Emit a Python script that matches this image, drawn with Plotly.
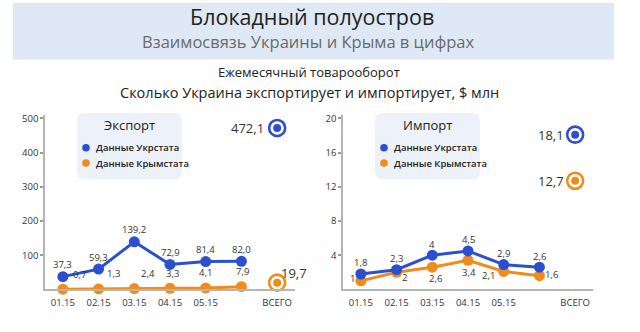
import plotly.graph_objects as go

W, H = 640, 332

# ---------------- data ----------------
months = ["01.15", "02.15", "03.15", "04.15", "05.15", "", "ВСЕГО"]
exp_ukr = [37.3, 59.3, 139.2, 72.9, 81.4, 82.0]
exp_crim = [0.7, 1.3, 2.4, 3.3, 4.1, 7.9]
exp_total_ukr = 472.1
exp_total_crim = 19.7
imp_ukr = [1.8, 2.3, 4, 4.5, 2.9, 2.6]
imp_crim = [1, 2, 2.6, 3.4, 2.1, 1.6]
imp_total_ukr = 18.1
imp_total_crim = 12.7
exp_ticks = [100, 200, 300, 400, 500]
imp_ticks = [4, 8, 12, 16, 20]

title = "Блокадный полуостров"
subtitle = "Взаимосвязь Украины и Крыма в цифрах"
chart_title = "Ежемесячный товарооборот"
chart_sub = "Сколько Украина экспортирует и импортирует, $ млн"
legend_ukr = "Данные Укрстата"
legend_crim = "Данные Крымстата"

BLUE = "#2b4fcf"
ORANGE = "#f08c1a"
TXT = "#333333"
FONT = "Open Sans"


def px(x):
    return x / W


def py(y):
    return 1 - y / H


def fmt(v):
    s = ("%g" % v) if float(v).is_integer() else ("%.1f" % v)
    return s.replace(".", ",")


def fmt1(v):
    return ("%.1f" % v).replace(".", ",")


fig = go.Figure()
xs = list(range(6))
annotations = []


def series(xa, ya, vals, col, labels, shifts):
    fig.add_trace(go.Scatter(x=xs, y=vals, mode="lines+markers",
                             line=dict(color=col, width=3),
                             marker=dict(size=11, color=col),
                             cliponaxis=False, xaxis=xa, yaxis=ya, showlegend=False))
    for i, (v, t) in enumerate(zip(vals, labels)):
        dx, dy = shifts[i]
        annotations.append(dict(x=i, y=v, xref=xa, yref=ya, text=t, showarrow=False,
                                xanchor="center", yanchor="middle", xshift=dx, yshift=dy,
                                font=dict(size=9.5, color=TXT, family=FONT)))


def total(xa, ya, val, col):
    fig.add_trace(go.Scatter(x=[6], y=[val], mode="markers",
                             marker=dict(size=16, symbol="circle-open", color=col,
                                         line=dict(width=2.6, color=col)),
                             cliponaxis=False, xaxis=xa, yaxis=ya, showlegend=False))
    fig.add_trace(go.Scatter(x=[6], y=[val], mode="markers",
                             marker=dict(size=8, color=col),
                             cliponaxis=False, xaxis=xa, yaxis=ya, showlegend=False))


# ---------- export ----------
series("x", "y", exp_crim, ORANGE, [fmt1(v) for v in exp_crim],
       [(17, 15), (15, 15), (14, 15), (2, 15), (0, 15), (1, 15)])
series("x", "y", exp_ukr, BLUE, [fmt1(v) for v in exp_ukr], [(0, 12)] * 6)
total("x", "y", exp_total_ukr, BLUE)
total("x", "y", exp_total_crim, ORANGE)

# ---------- import ----------
series("x2", "y2", imp_crim, ORANGE, [fmt(v) for v in imp_crim],
       [(-8, 2), (8, -5), (3, -11), (1, -12), (-15, -4), (12, 1)])
series("x2", "y2", imp_ukr, BLUE, [fmt(v) for v in imp_ukr], [(0, 11)] * 6)
total("x2", "y2", imp_total_ukr, BLUE)
total("x2", "y2", imp_total_crim, ORANGE)

# total labels
annotations += [
    dict(x=6, y=exp_total_ukr, xref="x", yref="y", text=fmt1(exp_total_ukr), showarrow=False,
         xanchor="right", yanchor="middle", xshift=-11, font=dict(size=13, color=TXT, family=FONT)),
    dict(x=6, y=exp_total_crim, xref="x", yref="y", text=fmt1(exp_total_crim), showarrow=False,
         xanchor="left", yanchor="middle", xshift=2, yshift=10, font=dict(size=13, color=TXT, family=FONT)),
    dict(x=6, y=imp_total_ukr, xref="x2", yref="y2", text=fmt1(imp_total_ukr), showarrow=False,
         xanchor="right", yanchor="middle", xshift=-9, font=dict(size=13, color=TXT, family=FONT)),
    dict(x=6, y=imp_total_crim, xref="x2", yref="y2", text=fmt1(imp_total_crim), showarrow=False,
         xanchor="right", yanchor="middle", xshift=-9, font=dict(size=13, color=TXT, family=FONT)),
]

# header texts
annotations += [
    dict(x=px(312), y=py(14), xref="paper", yref="paper", text=title, showarrow=False,
         xanchor="center", yanchor="middle", font=dict(size=21.5, color="#222222", family=FONT)),
    dict(x=px(308), y=py(39), xref="paper", yref="paper", text=subtitle, showarrow=False,
         xanchor="center", yanchor="middle", font=dict(size=16.5, color="#6a6a6a", family=FONT)),
    dict(x=px(309), y=py(70), xref="paper", yref="paper", text=chart_title, showarrow=False,
         xanchor="center", yanchor="middle", font=dict(size=13, color="#222222", family=FONT)),
    dict(x=px(309), y=py(90), xref="paper", yref="paper", text=chart_sub, showarrow=False,
         xanchor="center", yanchor="middle", font=dict(size=14.5, color="#222222", family=FONT)),
]

shapes = [dict(type="rect", xref="paper", yref="paper", x0=px(13), x1=px(614), y0=py(57), y1=py(0),
               fillcolor="#dfe9f6", line=dict(width=0), layer="below")]


def rounded(x0, y0, x1, y1, r):
    X = lambda v: "%.5f" % px(v)
    Y = lambda v: "%.5f" % py(v)
    return (f"M {X(x0+r)},{Y(y0)} L {X(x1-r)},{Y(y0)} Q {X(x1)},{Y(y0)} {X(x1)},{Y(y0+r)} "
            f"L {X(x1)},{Y(y1-r)} Q {X(x1)},{Y(y1)} {X(x1-r)},{Y(y1)} "
            f"L {X(x0+r)},{Y(y1)} Q {X(x0)},{Y(y1)} {X(x0)},{Y(y1-r)} "
            f"L {X(x0)},{Y(y0+r)} Q {X(x0)},{Y(y0)} {X(x0+r)},{Y(y0)} Z")


for bx, name in [(77, "Экспорт"), (375, "Импорт")]:
    shapes.append(dict(type="path", xref="paper", yref="paper", path=rounded(bx, 111, bx + 105, 178, 8),
                       fillcolor="#edf2fa", line=dict(width=0), layer="below"))
    annotations.append(dict(x=px(bx + 52), y=py(123), xref="paper", yref="paper", text=name,
                            xanchor="center", yanchor="middle",
                            showarrow=False, font=dict(size=13, color="#222222", family=FONT)))
    for yy, col, lab in [(146, BLUE, legend_ukr), (161.5, ORANGE, legend_crim)]:
        shapes.append(dict(type="circle", xref="paper", yref="paper",
                           x0=px(bx + 9 - 3.8), x1=px(bx + 9 + 3.8), y0=py(yy + 3.8), y1=py(yy - 3.8),
                           fillcolor=col, line=dict(width=0)))
        annotations.append(dict(x=px(bx + 17), y=py(yy), xref="paper", yref="paper", text=lab,
                                xanchor="left", yanchor="middle", showarrow=False,
                                font=dict(size=9.5, color="#222222", family=FONT, weight=600)))

xaxis_common = dict(range=[-0.5, 6.5], tickmode="array", tickvals=list(range(7)), ticktext=months,
                    showline=True, linecolor="#b5b5b5", linewidth=1.5, showgrid=False, zeroline=False,
                    ticks="", ticklabelstandoff=3,
                    tickfont=dict(size=9.5, color=TXT, family=FONT), fixedrange=True)
yaxis_common = dict(showline=True, linecolor="#b5b5b5", linewidth=1.5, showgrid=False, zeroline=False,
                    ticks="outside", ticklen=3, tickwidth=2, tickcolor="#999999",
                    tickfont=dict(size=9.5, color=TXT, family=FONT), fixedrange=True)

fig.update_layout(
    width=W, height=H, margin=dict(l=0, r=0, t=0, b=0),
    paper_bgcolor="white", plot_bgcolor="rgba(0,0,0,0)",
    showlegend=False,
    xaxis=dict(domain=[px(45), px(295)], anchor="y", **xaxis_common),
    yaxis=dict(domain=[py(289), py(113)], anchor="x", range=[0, 510], tickvals=exp_ticks,
               ticktext=[str(v) for v in exp_ticks], **yaxis_common),
    xaxis2=dict(domain=[px(343), px(593)], anchor="y2", **xaxis_common),
    yaxis2=dict(domain=[py(289), py(113)], anchor="x2", range=[0, 20.4], tickvals=imp_ticks,
                ticktext=[str(v) for v in imp_ticks], **yaxis_common),
    annotations=annotations,
    shapes=shapes,
)

fig.write_html("out.html")
